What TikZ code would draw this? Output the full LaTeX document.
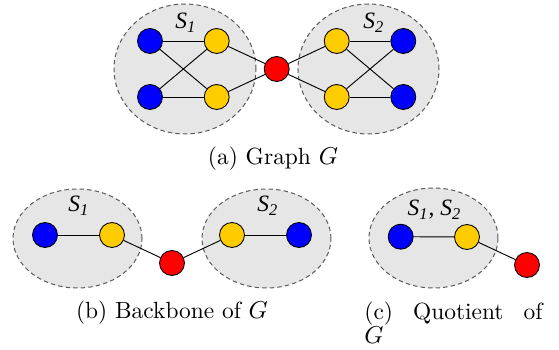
\documentclass[tikz,border=0pt]{standalone}
\usepackage{fontspec}
\newfontfamily\lserif{Liberation Serif}
\usetikzlibrary{shapes.geometric}
\definecolor{vblue}{RGB}{0,0,255}
\definecolor{vyellow}{RGB}{255,204,0}
\definecolor{vred}{RGB}{255,0,0}
\definecolor{grpfill}{RGB}{230,230,230}
\definecolor{grpline}{RGB}{90,90,90}
\begin{document}
\begin{tikzpicture}[x=0.4484pt,y=-0.4484pt,
  vert/.style={circle,draw=black,line width=0.4pt,minimum size=11.2pt,inner sep=0pt},
  bl/.style={vert,fill=vblue},
  yl/.style={vert,fill=vyellow},
  rd/.style={vert,fill=vred},
  grp/.style={ellipse,draw=grpline,line width=0.45pt,dash pattern=on 2pt off 1.4pt,fill=grpfill,inner sep=0pt},
  edge/.style={line width=0.42pt},
  slab/.style={font=\fontsize{10.5}{12}\selectfont\lserif\itshape,inner sep=0pt},
  capt/.style={font=\fontsize{10.5}{10.8}\selectfont,inner sep=0pt}
]
\useasboundingbox (0,0) rectangle (559,350);
% ---------- (a) ----------
\node[grp,minimum width=142*0.4484pt,minimum height=130*0.4484pt] (A1) at (185,69) {};
\node[grp,minimum width=141*0.4484pt,minimum height=130*0.4484pt] (A2) at (368.5,69) {};
\node[slab] (s1a) at (186,23) {S\textsubscript{1}};
\node[slab] (s2a) at (374,23) {S\textsubscript{2}};
\node[bl] (ab1) at (150,41) {};
\node[bl] (ab2) at (150,97) {};
\node[yl] (ay1) at (216.7,41) {};
\node[yl] (ay2) at (216.7,97) {};
\node[rd] (ar) at (276.7,69) {};
\node[yl] (ay3) at (336.7,41) {};
\node[yl] (ay4) at (336.7,97) {};
\node[bl] (ab3) at (403.3,41) {};
\node[bl] (ab4) at (403.3,97) {};
\draw[edge] (ab1) -- (ay1);
\draw[edge] (ab1) -- (ay2);
\draw[edge] (ab2) -- (ay1);
\draw[edge] (ab2) -- (ay2);
\draw[edge] (ay1) -- (ar);
\draw[edge] (ay2) -- (ar);
\draw[edge] (ar) -- (ay3);
\draw[edge] (ar) -- (ay4);
\draw[edge] (ay3) -- (ab3);
\draw[edge] (ay3) -- (ab4);
\draw[edge] (ay4) -- (ab3);
\draw[edge] (ay4) -- (ab4);
\node[capt,anchor=base] (capa) at (273,165) {(a) Graph $G$};
% ---------- (b) ----------
\node[grp,minimum width=129*0.4484pt,minimum height=99*0.4484pt] (B1) at (77.5,238.5) {};
\node[grp,minimum width=129*0.4484pt,minimum height=99*0.4484pt] (B2) at (266.5,238.5) {};
\node[slab] (s1b) at (79,206) {S\textsubscript{1}};
\node[slab] (s2b) at (268,206) {S\textsubscript{2}};
\node[bl] (bb1) at (45,235) {};
\node[yl] (by1) at (112,235) {};
\node[rd] (br) at (172,263) {};
\node[yl] (by2) at (232,235) {};
\node[bl] (bb2) at (299,235) {};
\draw[edge] (bb1) -- (by1);
\draw[edge] (by1) -- (br);
\draw[edge] (br) -- (by2);
\draw[edge] (by2) -- (bb2);
\node[capt,anchor=base] (capb) at (172,319) {(b) Backbone of $G$};
% ---------- (c) ----------
\node[grp,minimum width=129*0.4484pt,minimum height=100*0.4484pt] (C1) at (433.5,238) {};
\node[slab] (s12c) at (434.5,210) {S\textsubscript{1}, S\textsubscript{2}};
\node[bl] (cb) at (400.7,236.7) {};
\node[yl] (cy) at (467,237) {};
\node[rd] (cr) at (527,265) {};
\draw[edge] (cb) -- (cy);
\draw[edge] (cy) -- (cr);
\node[capt,anchor=north west,text width=178*0.4484pt,align=left] (capc) at (364,301.5)
  {(c)\hfill Quotient\hfill of\\$G$};
\end{tikzpicture}
\end{document}
